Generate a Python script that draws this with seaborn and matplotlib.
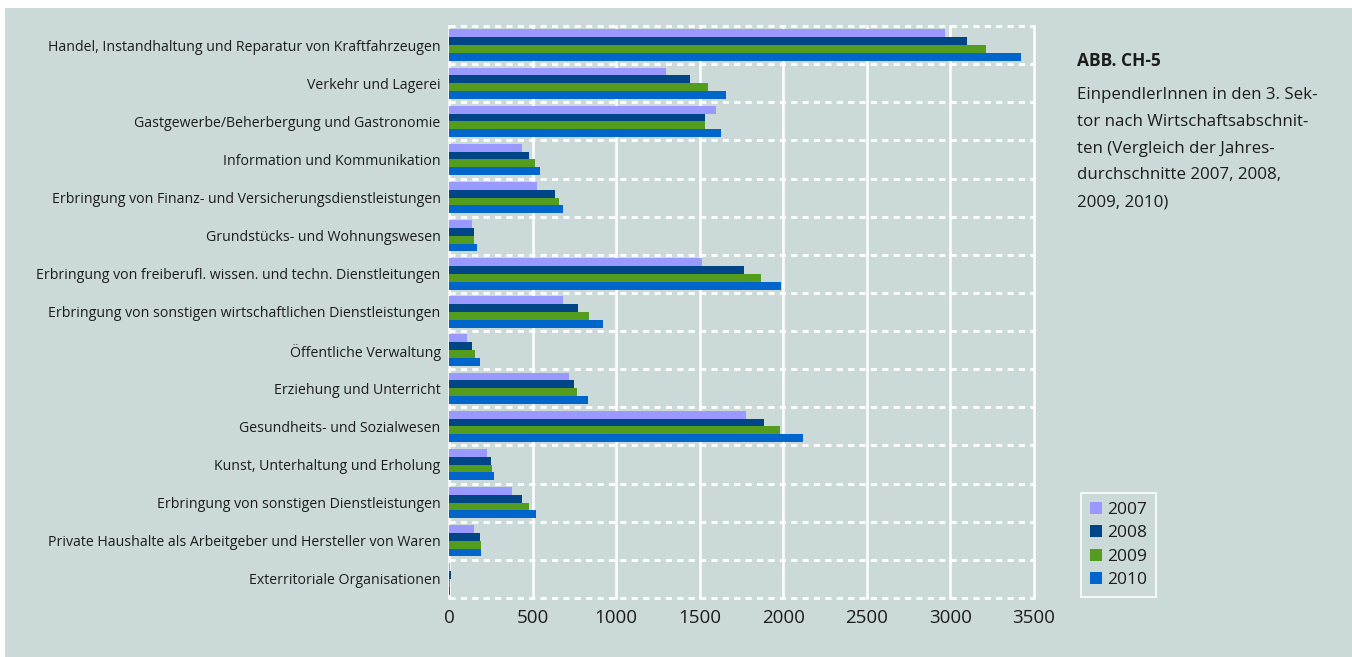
import pandas as pd
import matplotlib.pyplot as plt
from matplotlib.patches import Rectangle, Patch
import seaborn as sns

# %%
categories = [
    "Handel, Instandhaltung und Reparatur von Kraftfahrzeugen",
    "Verkehr und Lagerei",
    "Gastgewerbe/Beherbergung und Gastronomie",
    "Information und Kommunikation",
    "Erbringung von Finanz- und Versicherungsdienstleistungen",
    "Grundstücks- und Wohnungswesen",
    "Erbringung von freiberufl. wissen. und techn. Dienstleitungen",
    "Erbringung von sonstigen wirtschaftlichen Dienstleistungen",
    "Öffentliche Verwaltung",
    "Erziehung und Unterricht",
    "Gesundheits- und Sozialwesen",
    "Kunst, Unterhaltung und Erholung",
    "Erbringung von sonstigen Dienstleistungen",
    "Private Haushalte als Arbeitgeber und Hersteller von Waren",
    "Exterritoriale Organisationen",
]
years = ["2007", "2008", "2009", "2010"]
v2007 = [2970, 1300, 1600, 435, 525, 140, 1515, 680, 105, 715, 1775, 230, 375, 150, 8]
v2008 = [3100, 1440, 1530, 480, 635, 150, 1765, 770, 140, 745, 1885, 250, 435, 185, 10]
v2009 = [3210, 1550, 1530, 515, 660, 150, 1865, 840, 155, 765, 1980, 260, 480, 190, 5]
v2010 = [3420, 1660, 1630, 545, 680, 165, 1985, 920, 185, 830, 2120, 270, 520, 190, 5]
colors = ["#9999FF", "#004687", "#539C1D", "#0066CC"]
xticks = [0, 500, 1000, 1500, 2000, 2500, 3000, 3500]

title = "ABB. CH-5"
caption = [
    "EinpendlerInnen in den 3. Sek-",
    "tor nach Wirtschaftsabschnit-",
    "ten (Vergleich der Jahres-",
    "durchschnitte 2007, 2008,",
    "2009, 2010)",
]

# %%
data = pd.DataFrame({
    "Wirtschaftsabschnitt": categories * 4,
    "Jahr": [y for y in years for _ in categories],
    "Anzahl": v2007 + v2008 + v2009 + v2010,
})

bg = "#CBD9D9"
txt = "#1c1c1c"
plt.rcParams["font.family"] = ["Open Sans", "DejaVu Sans"]

W, H = 1352, 657
fig = plt.figure(figsize=(W / 100, H / 100), dpi=100, facecolor="white")
fig.patches.append(Rectangle((5 / W, 0), 1, 1 - 8 / H, transform=fig.transFigure,
                             facecolor=bg, edgecolor="none", zorder=-10))
ax = fig.add_axes([449 / W, 1 - 598 / H, (1034 - 449) / W, (598 - 26) / H])
ax.set_facecolor(bg)

sns.barplot(data=data, y="Wirtschaftsabschnitt", x="Anzahl", hue="Jahr",
            hue_order=years, palette=colors, orient="h", width=0.82,
            saturation=1, legend=False, ax=ax, zorder=3)
for bar in ax.patches:
    bar.set_edgecolor("none")

ax.set_xlim(0, 3500)
ax.set_ylim(len(categories) - 0.5, -0.5)
for x in xticks:
    ax.axvline(x, color="white", lw=1.8, zorder=1, clip_on=False)
for k in range(len(categories) + 1):
    ax.axhline(k - 0.5, color="white", lw=2.0, ls=(0, (2.2, 1.9)), zorder=2, clip_on=False)

for s in ax.spines.values():
    s.set_visible(False)
ax.set_xticks(xticks)
ax.set_xticklabels([str(x) for x in xticks])
ax.tick_params(axis="x", length=0, pad=8, labelsize=13.5, labelcolor=txt)
ax.tick_params(axis="y", length=0, pad=6, labelsize=10.2, labelcolor=txt)
ax.set_xlabel("")
ax.set_ylabel("")

handles = [Patch(facecolor=c, edgecolor="none", label=y) for c, y in zip(colors, years)]
leg = ax.legend(handles=handles, loc="lower left", bbox_to_anchor=(1081 / W, 1 - 597 / H),
                bbox_transform=fig.transFigure, borderaxespad=0, fontsize=12.5,
                handlelength=0.7, handleheight=0.7, handletextpad=0.3,
                labelspacing=0.42, borderpad=0.5, frameon=True, fancybox=False)
leg.get_frame().set_facecolor(bg)
leg.get_frame().set_edgecolor("white")
leg.get_frame().set_linewidth(1.5)
for t in leg.get_texts():
    t.set_color(txt)

fig.text(1077 / W, 1 - 66 / H, title, fontsize=12.5, fontweight="bold", color=txt, va="baseline")
for i, line in enumerate(caption):
    fig.text(1077 / W, 1 - (99 + 26.8 * i) / H, line, fontsize=12.2, color=txt, va="baseline")

plt.savefig("out.png", dpi=100, facecolor="white")
